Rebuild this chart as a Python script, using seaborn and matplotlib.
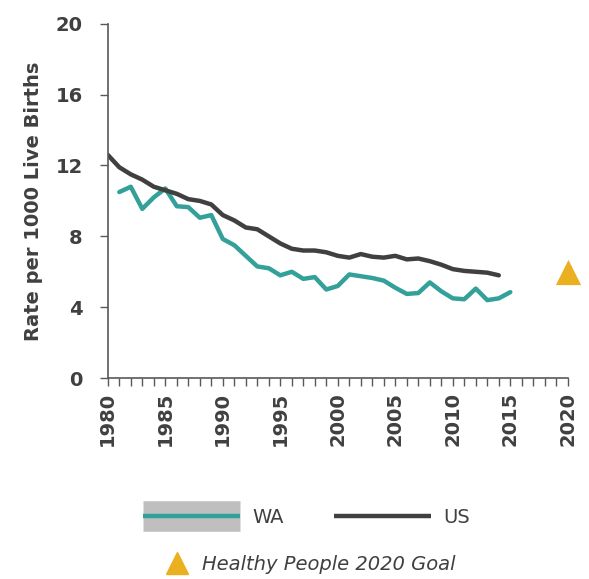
import pandas as pd
import matplotlib.pyplot as plt
import seaborn as sns
from matplotlib.lines import Line2D
from matplotlib.legend_handler import HandlerTuple

# infant mortality rate per 1000 live births
us_years = list(range(1980, 2015))
us_rate = [12.6, 11.9, 11.5, 11.2, 10.8, 10.6, 10.4, 10.1, 10.0, 9.8,
           9.2, 8.9, 8.5, 8.4, 8.0, 7.6, 7.3, 7.2, 7.2, 7.1,
           6.9, 6.8, 7.0, 6.85, 6.8, 6.9, 6.7, 6.75, 6.6, 6.4,
           6.15, 6.05, 6.0, 5.95, 5.8]

wa_years = list(range(1981, 2016))
wa_rate = [10.5, 10.8, 9.55, 10.2, 10.7, 9.7, 9.65, 9.05, 9.2, 7.85,
           7.5, 6.9, 6.3, 6.2, 5.8, 6.0, 5.6, 5.7, 5.0, 5.2,
           5.85, 5.75, 5.65, 5.5, 5.1, 4.75, 4.8, 5.4, 4.9, 4.5,
           4.45, 5.05, 4.4, 4.5, 4.85]

goal_year = [2020]
goal_rate = [6.0]

teal = '#33a199'
dark = '#404040'
gold = '#ebb020'
text_c = '#404040'

df = pd.concat([
    pd.DataFrame({'year': wa_years, 'rate': wa_rate, 'area': 'WA'}),
    pd.DataFrame({'year': us_years, 'rate': us_rate, 'area': 'US'}),
])

sns.set_theme(style='white')
plt.rcParams['font.family'] = ['DejaVu Sans']

fig = plt.figure(figsize=(5.89, 5.79), dpi=100)
ax = fig.add_axes([0.183, 0.347, 0.781, 0.612])

sns.lineplot(data=df, x='year', y='rate', hue='area',
             palette={'WA': teal, 'US': dark}, linewidth=3.2,
             legend=False, ax=ax)
ax.scatter(goal_year, goal_rate, marker='^', s=330, color=gold,
           zorder=5, clip_on=False, linewidths=0)

ax.set_xlim(1980, 2020)
ax.set_ylim(0, 20)
ax.set_xticks(range(1980, 2021, 5))
ax.set_xticks(range(1980, 2021), minor=True)
ax.set_yticks(range(0, 21, 4))

for s in ['top', 'right']:
    ax.spines[s].set_visible(False)
for s in ['left', 'bottom']:
    ax.spines[s].set_color('#595959')
    ax.spines[s].set_linewidth(1.2)

ax.tick_params(axis='both', which='both', direction='out', color='#595959',
               width=1, length=6, bottom=True, left=True)
ax.tick_params(axis='y', pad=12)
ax.tick_params(axis='x', which='major', pad=4)
ax.tick_params(axis='y', which='minor', left=False)

for lab in ax.get_xticklabels():
    lab.set_rotation(90)
for lab in ax.get_xticklabels() + ax.get_yticklabels():
    lab.set_fontweight('bold')
    lab.set_fontsize(14)
    lab.set_color(text_c)

ax.set_xlabel('')
ax.set_ylabel('Rate per 1000 Live Births', fontsize=14, fontweight='bold',
              color=text_c, labelpad=9)

# WA legend key: grey band with the teal line on top
wa_handle = (Line2D([], [], color='#bfbfbf', linewidth=22,
                    solid_capstyle='butt'),
             Line2D([], [], color=teal, linewidth=3.2,
                    solid_capstyle='butt'))
us_handle = Line2D([], [], color=dark, linewidth=3.2, solid_capstyle='butt')
leg1 = fig.legend([wa_handle, us_handle], ['WA', 'US'], ncol=2,
                  loc='center', bbox_to_anchor=(0.52, 0.106),
                  frameon=False, fontsize=14, handlelength=5.0,
                  columnspacing=2.6, handletextpad=0.6,
                  handler_map={tuple: HandlerTuple(ndivide=1, pad=0)})
for t in leg1.get_texts():
    t.set_color(text_c)

goal_handle = Line2D([], [], marker='^', color=gold, linestyle='none',
                     markersize=16)
leg2 = fig.legend([goal_handle], ['Healthy People 2020 Goal'],
                  loc='center', bbox_to_anchor=(0.52, 0.025),
                  frameon=False, fontsize=14, handletextpad=0.3)
for t in leg2.get_texts():
    t.set_color(text_c)
    t.set_fontstyle('italic')

fig.savefig('out.png', dpi=100)
